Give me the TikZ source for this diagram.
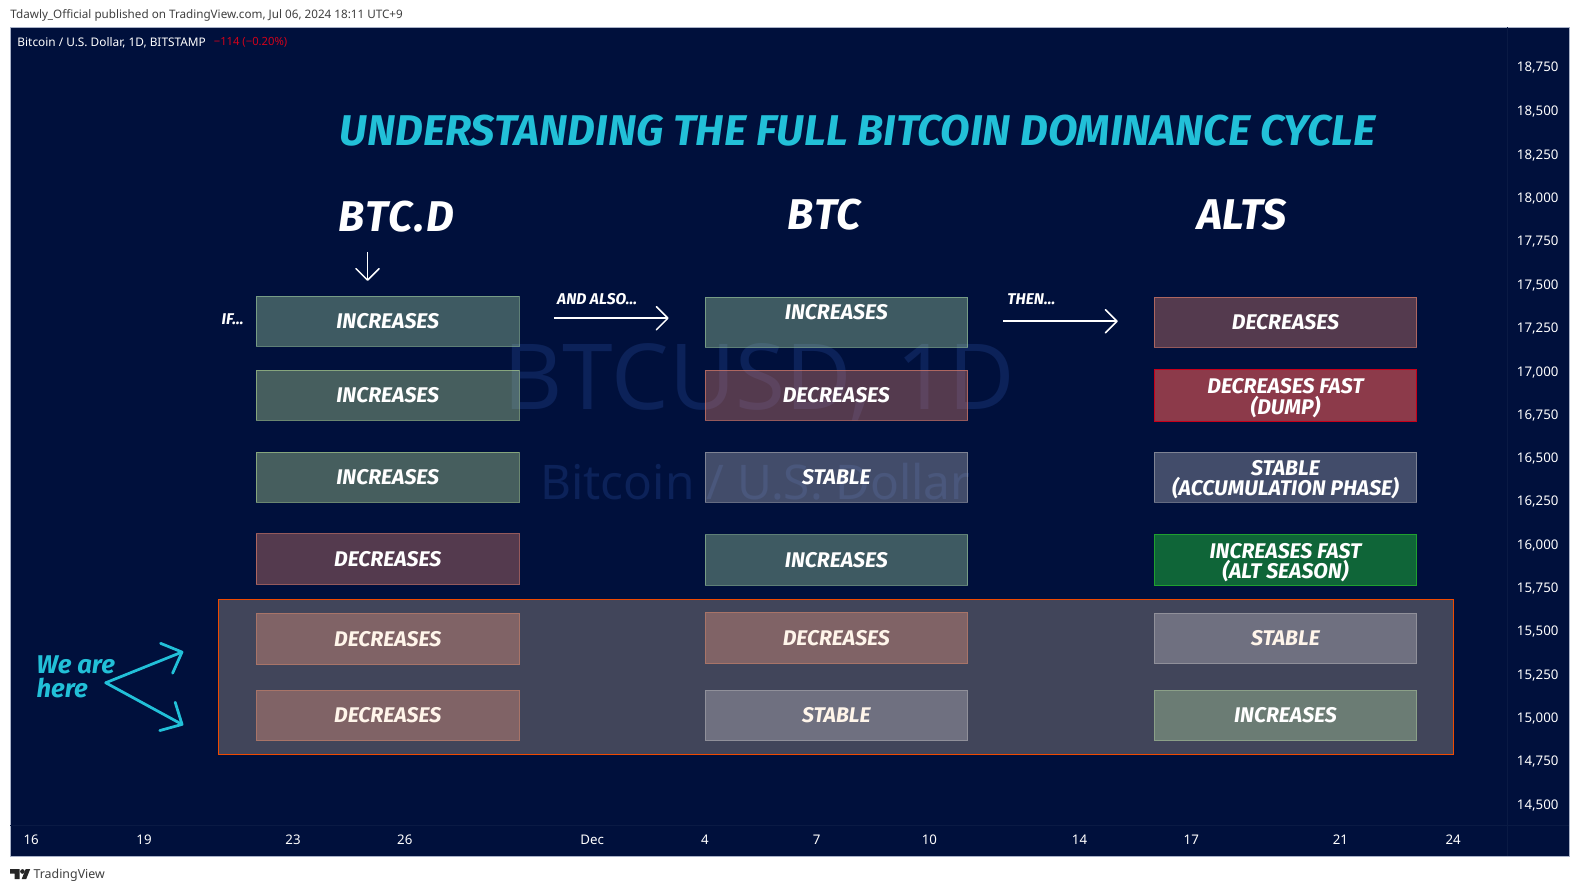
\documentclass[tikz,border=0pt]{standalone}
\usepackage{fontspec}
\usepackage{tikz}
\usetikzlibrary{arrows.meta}
\setmainfont{Fira Sans}
\newfontfamily\tickfont{Noto Sans}
\newcommand{\lowerline}{\rule{0pt}{11.4pt}}
\definecolor{chartbg}{HTML}{00103C}
\definecolor{frameline}{HTML}{A9B2C8}
\definecolor{axisline}{HTML}{0A1A44}
\definecolor{markcolor}{HTML}{0C2259}
\definecolor{titlecyan}{HTML}{22C0D8}
\definecolor{lossred}{HTML}{D0021B}
\definecolor{HTMLinc}{HTML}{9DC99D}
\definecolor{HTMLincb}{HTML}{B1D593}
\definecolor{HTMLdec}{HTML}{D47969}
\definecolor{HTMLsta}{HTML}{A7A8B1}
\definecolor{HTMLdump}{HTML}{8C3A4A}
\definecolor{HTMLdumpline}{HTML}{C8001A}
\definecolor{HTMLseason}{HTML}{0F6538}
\definecolor{HTMLseasonline}{HTML}{1FA02F}
\definecolor{HTMLzone}{HTML}{41455A}
\definecolor{HTMLzoneline}{HTML}{F04A00}
\definecolor{HTMLzdec}{HTML}{806366}
\definecolor{HTMLzdecline}{HTML}{A87468}
\definecolor{HTMLzsta}{HTML}{6F7080}
\definecolor{HTMLzstaline}{HTML}{90909A}
\definecolor{HTMLzinc}{HTML}{6B7C74}
\definecolor{HTMLzincline}{HTML}{8BA088}
\definecolor{zonetext}{HTML}{FFF5EA}
\tikzset{
    boxbase/.style={minimum width=5.22cm, minimum height=1cm, inner sep=0pt, align=center, text=white, line width=0.5pt,
        font=\fontsize{12}{11.5}\selectfont\bfseries\itshape},
    incbox/.style={boxbase, fill=HTMLinc, fill opacity=0.4, draw=HTMLinc, draw opacity=0.6, text opacity=1},
    incboxb/.style={boxbase, fill=HTMLincb, fill opacity=0.4, draw=HTMLincb, draw opacity=0.6, text opacity=1},
    decbox/.style={boxbase, fill=HTMLdec, fill opacity=0.4, draw=HTMLdec, draw opacity=0.7, text opacity=1},
    stabox/.style={boxbase, fill=HTMLsta, fill opacity=0.4, draw=HTMLsta, draw opacity=0.6, text opacity=1},
    dumpbox/.style={boxbase, minimum height=1.04cm, fill=HTMLdump, draw=HTMLdumpline},
    seasonbox/.style={boxbase, fill=HTMLseason, draw=HTMLseasonline},
    zonedec/.style={boxbase, text=zonetext, fill=HTMLzdec, draw=HTMLzdecline},
    zonesta/.style={boxbase, text=zonetext, fill=HTMLzsta, draw=HTMLzstaline},
    zoneinc/.style={boxbase, fill=HTMLzinc, draw=HTMLzincline},
    headtext/.style={text=white, font=\fontsize{24.3}{26}\selectfont\bfseries\itshape, inner sep=0pt},
    smalltext/.style={text=white, font=\fontsize{8.8}{9}\selectfont\bfseries\itshape, inner sep=0pt},
    pricetick/.style={text=white, font=\tickfont\fontsize{7.5}{9}\selectfont, inner sep=0pt},
    timetick/.style={text=white, font=\tickfont\fontsize{7.5}{9}\selectfont, inner sep=0pt},
    greytext/.style={text=black!75, font=\tickfont\fontsize{6.6}{8}\selectfont, inner sep=0pt, anchor=west},
    thinarrow/.style={draw=white, line width=0.03cm, -{Straight Barb[length=2.3mm,width=4.6mm,round]}},
    herearrow/.style={draw=titlecyan, line width=0.055cm, line cap=round, -{Straight Barb[length=3.3mm,width=6.4mm,round]}}
}
\begin{document}
\begin{tikzpicture}[x=0.02cm, y=-0.02cm]
    \useasboundingbox (0,0) rectangle (1568,885);
    \fill[white] (0,0) rectangle (1568,885);

    % Chart panel and axis lines
    \draw[fill=chartbg, draw=frameline, line width=0.5pt] (10,27) rectangle (1558,850);
    \draw[axisline, line width=0.5pt] (1497,27) -- (1497,850);
    \draw[axisline, line width=0.5pt] (10,820) -- (1558,820);

    % Watermark
    \node[text=markcolor, font=\tickfont\fontsize{51.5}{54}\selectfont, inner sep=0pt] (markpair) at (754,380) {BTCUSD, 1D};
    \node[text=markcolor, font=\tickfont\fontsize{27}{28}\selectfont, inner sep=0pt] (markname) at (750,478) {Bitcoin / U.S. Dollar};

    % Page captions
    \node[greytext] (publisher) at (10,15.5) {Tdawly\_Official published on TradingView.com, Jul 06, 2024 18:11 UTC+9};
    \node[text=white, font=\tickfont\fontsize{6.7}{8}\selectfont, inner sep=0pt, anchor=west] (legend) at (17,42.5) {Bitcoin / U.S. Dollar, 1D, BITSTAMP};
    \node[text=lossred, font=\tickfont\fontsize{6.35}{8}\selectfont, inner sep=0pt, anchor=west] (change) at (212,42.5) {−114 (−0.20\%)};
    \fill[black!85] (10,863) -- (19.5,863) -- (19.5,873) -- (14.5,873) -- (14.5,867.5) -- (10,867.5) -- cycle;
    \fill[black!85] (22.3,865.4) circle (2.3);
    \fill[black!85] (25.5,863) -- (30,863) -- (26,873) -- (21.5,873) -- cycle;
    \node[greytext, font=\tickfont\fontsize{7}{9}\selectfont] (brand) at (33,869) {TradingView};

    % Titles
    \node[headtext, text=titlecyan, anchor=west] (title) at (337,130) {UNDERSTANDING THE FULL BITCOIN DOMINANCE CYCLE};
    \node[headtext, anchor=west, font=\fontsize{24.3}{26}\selectfont\addfontfeature{LetterSpace=4}\bfseries\itshape] (headdom) at (336,215) {BTC.D};
    \node[headtext, anchor=west, font=\fontsize{24.3}{26}\selectfont\addfontfeature{LetterSpace=3}\bfseries\itshape] (headbtc) at (782,213) {BTC};
    \node[headtext, anchor=west] (headalt) at (1189,213) {ALTS};

    % Highlighted zone
    \draw[fill=HTMLzone, draw=HTMLzoneline, line width=0.7pt] (217,595) rectangle (1443,749);

    % First column
    \node[incbox] (dom1) at (385,319) {INCREASES};
    \node[incboxb] (dom2) at (385,392.5) {INCREASES};
    \node[incboxb] (dom3) at (385,474) {INCREASES};
    \node[decbox] (dom4) at (385,555) {DECREASES};
    \node[zonedec] (dom5) at (385,634.5) {DECREASES};
    \node[zonedec] (dom6) at (385,710.5) {DECREASES};

    % Second column
    \node[incbox] (btc1) at (830.5,320) {\raisebox{11.4pt}{INCREASES}};
    \node[decbox] (btc2) at (830.5,392.5) {DECREASES};
    \node[stabox] (btc3) at (830.5,474) {STABLE};
    \node[incbox] (btc4) at (830.5,556) {INCREASES};
    \node[zonedec] (btc5) at (830.5,633.5) {DECREASES};
    \node[zonesta] (btc6) at (830.5,710.5) {STABLE};

    % Third column
    \node[decbox] (alt1) at (1276.5,320) {DECREASES};
    \node[dumpbox] (alt2) at (1276.5,393) {\lowerline DECREASES FAST\\(DUMP)};
    \node[stabox] (alt3) at (1276.5,474) {\lowerline STABLE\\(ACCUMULATION PHASE)};
    \node[seasonbox] (alt4) at (1276.5,556) {\lowerline INCREASES FAST\hspace{4pt}\\(ALT SEASON)};
    \node[zonesta] (alt5) at (1276.5,634) {STABLE};
    \node[zoneinc] (alt6) at (1276.5,710.5) {INCREASES};

    % Small labels and arrows
    \node[smalltext] (iflabel) at (231,317) {IF...};
    \node[smalltext, anchor=west] (alsolabel) at (553,297) {AND ALSO...};
    \node[smalltext, anchor=west] (thenlabel) at (1000,297) {THEN...};
    \coordinate (downstart) at (365,250);
    \coordinate (downend) at (365,279);
    \coordinate (alsostart) at (550,316);
    \coordinate (alsoend) at (664,316);
    \coordinate (thenstart) at (996,319);
    \coordinate (thenend) at (1110,319);
    \draw[thinarrow] (downstart) -- (downend);
    \draw[thinarrow] (alsostart) -- (alsoend);
    \draw[thinarrow] (thenstart) -- (thenend);

    % We are here
    \node[text=titlecyan, font=\fontsize{14.5}{13.7}\selectfont\bfseries\itshape, align=left, inner sep=0pt, anchor=west] (herelabel) at (36,672) {We are\\here};
    \coordinate (herefork) at (105,678);
    \coordinate (hereup) at (182,647);
    \coordinate (heredown) at (182,720);
    \draw[herearrow] (herefork) -- (hereup);
    \draw[herearrow] (herefork) -- (heredown);

    % Price axis
    \node[pricetick] (p18750) at (1527,67.5) {18,750};
    \node[pricetick] (p18500) at (1527,110.5) {18,500};
    \node[pricetick] (p18250) at (1527,154.5) {18,250};
    \node[pricetick] (p18000) at (1527,197.5) {18,000};
    \node[pricetick] (p17750) at (1527,239.5) {17,750};
    \node[pricetick] (p17500) at (1527,283.5) {17,500};
    \node[pricetick] (p17250) at (1527,326.5) {17,250};
    \node[pricetick] (p17000) at (1527,369.5) {17,000};
    \node[pricetick] (p16750) at (1527,412.5) {16,750};
    \node[pricetick] (p16500) at (1527,455.5) {16,500};
    \node[pricetick] (p16250) at (1527,498.5) {16,250};
    \node[pricetick] (p16000) at (1527,541.5) {16,000};
    \node[pricetick] (p15750) at (1527,584.5) {15,750};
    \node[pricetick] (p15500) at (1527,627.5) {15,500};
    \node[pricetick] (p15250) at (1527,670.5) {15,250};
    \node[pricetick] (p15000) at (1527,713.5) {15,000};
    \node[pricetick] (p14750) at (1527,756.5) {14,750};
    \node[pricetick] (p14500) at (1527,799.5) {14,500};

    % Time axis
    \node[timetick] (t16) at (31,834) {16};
    \node[timetick] (t19) at (143,834) {19};
    \node[timetick] (t23) at (291,834) {23};
    \node[timetick] (t26) at (402,834) {26};
    \node[timetick, font=\tickfont\fontsize{7.5}{9}\selectfont\bfseries] (tdec) at (588,834) {Dec};
    \node[timetick] (t4) at (700,834) {4};
    \node[timetick] (t7) at (811,834) {7};
    \node[timetick] (t10) at (923,834) {10};
    \node[timetick] (t14) at (1072,834) {14};
    \node[timetick] (t17) at (1183,834) {17};
    \node[timetick] (t21) at (1331,834) {21};
    \node[timetick] (t24) at (1443,834) {24};
\end{tikzpicture}
\end{document}
